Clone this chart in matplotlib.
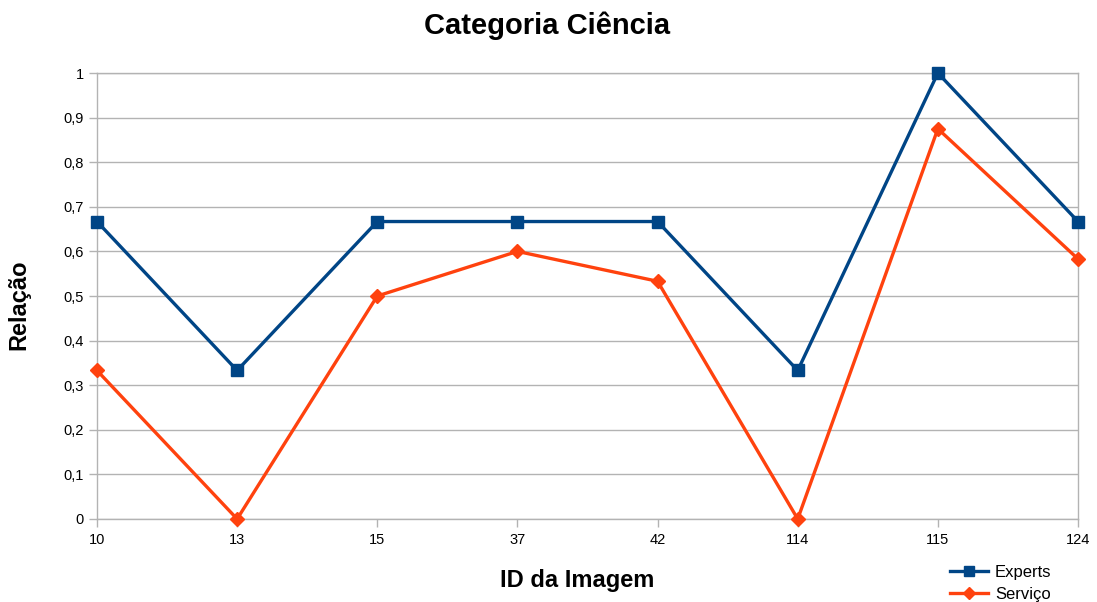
import matplotlib
matplotlib.use('Agg')
import matplotlib.pyplot as plt

plt.rcParams['font.family'] = ['Liberation Sans', 'DejaVu Sans']

# categories (image IDs) and relation values
ids = ['10', '13', '15', '37', '42', '114', '115', '124']
experts = [0.667, 0.333, 0.667, 0.667, 0.667, 0.333, 1.0, 0.667]
servico = [0.333, 0.0, 0.5, 0.6, 0.533, 0.0, 0.875, 0.583]
yticks = [0, 0.1, 0.2, 0.3, 0.4, 0.5, 0.6, 0.7, 0.8, 0.9, 1]
ytick_labels = ['0', '0,1', '0,2', '0,3', '0,4', '0,5', '0,6', '0,7', '0,8', '0,9', '1']

fig = plt.figure(figsize=(10.97, 6.02), dpi=100)
ax = fig.add_axes([0.0884, 0.1379, 0.8943, 0.7408])

x = list(range(len(ids)))
ax.plot(x, experts, color='#004586', lw=2.4, marker='s', ms=9, label='Experts', clip_on=False, zorder=3)
ax.plot(x, servico, color='#ff420e', lw=2.4, marker='D', ms=7, label='Serviço', clip_on=False, zorder=3)

ax.set_xlim(0, len(ids) - 1)
ax.set_ylim(0, 1)
ax.set_xticks(x)
ax.set_xticklabels(ids)
ax.set_yticks(yticks)
ax.set_yticklabels(ytick_labels)
ax.tick_params(axis='both', labelsize=10.5, color='#b3b3b3', length=6, width=1, labelcolor='black')
ax.tick_params(axis='x', pad=4)
ax.yaxis.grid(True, color='#b3b3b3', lw=1)
ax.set_axisbelow(True)
for s in ax.spines.values():
    s.set_color('#b3b3b3')
    s.set_linewidth(1)

# titles placed in figure coordinates
fig.text(0.4986, 0.958, 'Categoria Ciência', fontsize=21, fontweight='bold', ha='center', va='center')
fig.text(0.526, 0.035, 'ID da Imagem', fontsize=17, fontweight='bold', ha='center', va='center')
fig.text(0.017, 0.493, 'Relação', fontsize=17, fontweight='bold', ha='center', va='center', rotation=90)

leg = fig.legend(handles=ax.get_lines(), loc='upper left', bbox_to_anchor=(0.866, 0.062), frameon=False,
                 fontsize=12, handlelength=2.3, labelspacing=0.45, handletextpad=0.4,
                 borderaxespad=0, borderpad=0, markerscale=0.85)

fig.savefig('out.png', dpi=100)
